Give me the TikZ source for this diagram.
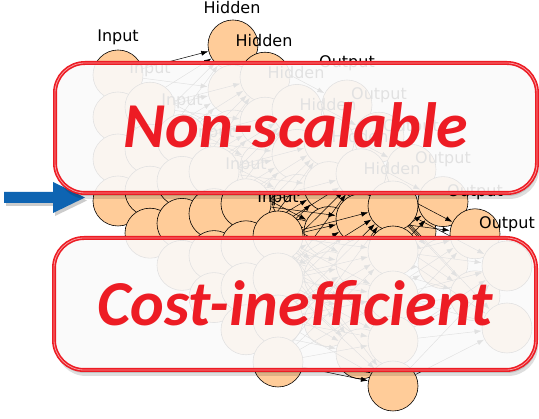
\documentclass[tikz,border=0pt]{standalone}
\usepackage{fontspec}
\usetikzlibrary{arrows.meta}
\newfontfamily\lblfont{DejaVu Sans}
\newfontfamily\warnfont{Carlito}
\definecolor{warnred}{RGB}{237,28,36}
\definecolor{arrowblue}{RGB}{14,100,178}
\definecolor{boxfill}{RGB}{250,250,250}
\tikzset{
  neuron/.style={circle, minimum size=50pt, inner sep=0pt, draw=black, line width=0.6pt, fill=orange!40},
  conn/.style={-{Latex[length=7pt,width=5pt]}, line width=0.5pt, black, shorten >=0.3pt},
  lbl/.style={font=\lblfont\fontsize{16}{16}\selectfont, inner sep=0pt},
  warnbox/.style={draw=warnred, line width=1.6pt, double=warnred!45!white, double distance=0.8pt,
    rounded corners=30pt, fill=boxfill, fill opacity=0.9, minimum width=482pt, minimum height=130pt, inner sep=0pt},
  warnshadow/.style={fill=black, opacity=0.13, rounded corners=30pt},
  warntext/.style={font=\warnfont\bfseries\itshape\fontsize{64}{64}\selectfont, text=warnred, inner sep=0pt, anchor=base},
}
\begin{document}
\begin{tikzpicture}[x=1pt, y=-1pt]
\useasboundingbox (0,0) rectangle (539,419);
\fill[white] (0,0) rectangle (539,419);

% a cascade of six small networks, each one placed over the previous one
\foreach \k in {0,...,5} {
  \pgfmathsetmacro\ox{118+32*\k}
  \pgfmathsetmacro\oy{37+32.2*\k}
  \begin{scope}[shift={(\ox,\oy)}]
    \foreach \i in {1,...,4}
      \node[neuron] (in-\k-\i) at (0,{38+42*(\i-1)}) {};
    \foreach \j in {1,...,5}
      \node[neuron] (hid-\k-\j) at (115,{8+45*(\j-1)}) {};
    \foreach \m in {1,2}
      \node[neuron] (out-\k-\m) at (229,{68+62*(\m-1)}) {};
    \foreach \i in {1,...,4}
      \foreach \j in {1,...,5}
        \draw[conn] (in-\k-\i) -- (hid-\k-\j);
    \foreach \j in {1,...,5}
      \foreach \m in {1,2}
        \draw[conn] (hid-\k-\j) -- (out-\k-\m);
    \node[lbl] (lin-\k) at (0,0) {Input};
    \node[lbl] (lhid-\k) at (114,-29) {Hidden};
    \node[lbl] (lout-\k) at (229,26) {Output};
  \end{scope}
}

% blue pointer on the left
\fill[black, opacity=0.2] (6,195) -- (55,195) -- (55,185) -- (87,200.5) -- (55,216) -- (55,206) -- (6,206) -- cycle;
\fill[arrowblue] (4,192) -- (53,192) -- (53,182) -- (85,197.5) -- (53,213) -- (53,203) -- (4,203) -- cycle;

% soft shadows, kept outside the boxes
\begin{scope}[even odd rule, rounded corners=30pt]
  \clip (0,0) -- (539,0) -- (539,419) -- (0,419) -- cycle
    (55,63) rectangle (537,193)
    (54,238) rectangle (536,370);
  \fill[warnshadow] (57,67) rectangle (539,199);
  \fill[warnshadow] (56,65) rectangle (538,196);
  \fill[warnshadow] (56,242) rectangle (538,376);
  \fill[warnshadow] (55,240) rectangle (537,373);
\end{scope}

% warning boxes
\node[warnbox] (box1) at (296,128) {};
\node[warntext] (t1) at (296,148) {Non-scalable};

\node[warnbox, minimum height=132pt] (box2) at (295,304) {};
\node[warntext] (t2) at (295,326) {Cost-inefficient};
\end{tikzpicture}
\end{document}
